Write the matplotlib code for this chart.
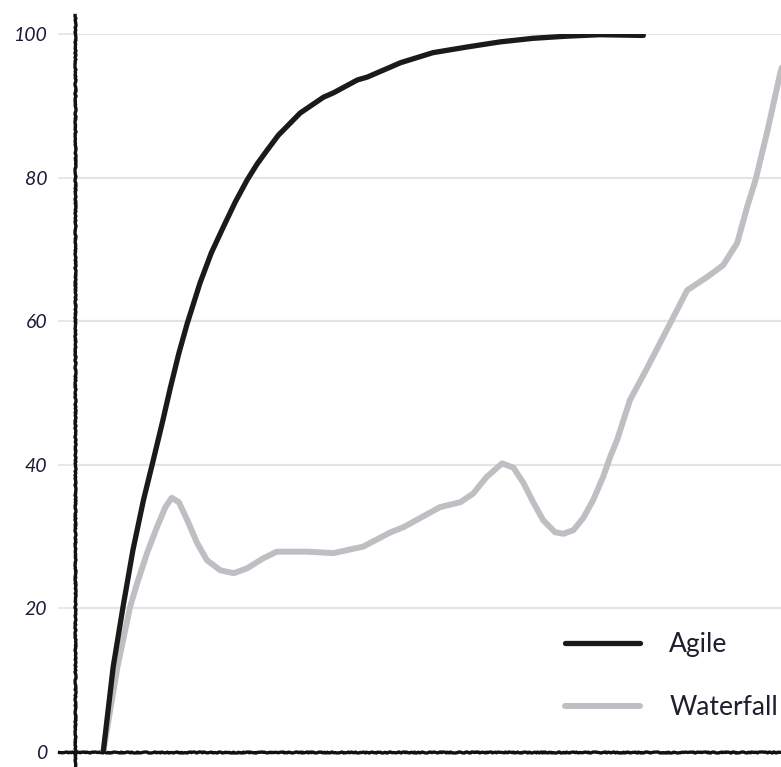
import numpy as np
import matplotlib
matplotlib.use("Agg")
import matplotlib.pyplot as plt

# values (x = time, y = percent)
agile_x = [0, 1.4, 2.8, 4.2, 5.7, 7.1, 8.4, 9.5, 10.7, 11.9, 13.7, 15.3, 17.0,
           18.7, 20.4, 21.8, 23.2, 24.8, 26.5, 27.9, 31.2, 32.6, 36.0, 37.4,
           40.7, 42.1, 46.7, 51.6, 56.2, 60.9, 65.7, 70.3, 76.5]
agile_y = [0, 11.8, 20.2, 28.1, 35.1, 40.7, 46.0, 50.7, 55.5, 59.7, 65.3, 69.5,
           73.1, 76.6, 79.7, 81.9, 83.8, 85.9, 87.6, 89.0, 91.2, 91.8, 93.6,
           94.0, 95.4, 96.0, 97.4, 98.2, 98.9, 99.4, 99.7, 99.9, 99.8]

waterfall_x = [0, 2.0, 3.8, 4.8, 6.2, 7.6, 8.8, 9.7, 10.7, 11.9, 13.3, 14.7,
               16.6, 18.5, 20.4, 22.7, 24.6, 28.9, 32.6, 36.8, 40.7, 42.5, 47.7,
               50.6, 52.4, 54.3, 56.5, 58.1, 59.5, 60.9, 62.3, 64.0, 65.2, 66.6,
               68.0, 69.4, 70.8, 71.8, 72.8, 74.6, 77.1, 80.3, 82.7, 85.6, 87.8,
               89.8, 91.2, 92.4, 94.1, 95.9, 97.3]
waterfall_y = [0, 11.8, 20.2, 23.5, 27.7, 31.3, 34.1, 35.4, 34.8, 32.3, 29.1,
               26.7, 25.3, 24.9, 25.6, 27.0, 27.9, 27.9, 27.7, 28.6, 30.6, 31.3,
               34.1, 34.8, 36.0, 38.3, 40.2, 39.6, 37.5, 34.8, 32.3, 30.6, 30.4,
               30.9, 32.6, 35.1, 38.3, 41.1, 43.5, 49.0, 53.6, 59.7, 64.3, 66.2,
               67.8, 70.9, 75.9, 79.7, 86.6, 94.6, 99.0]

yticks = [0, 20, 40, 60, 80, 100]
series_names = ["Agile", "Waterfall"]

W, H = 781, 767
fig = plt.figure(figsize=(W / 100, H / 100), dpi=100)
ax = fig.add_axes([75 / W, 15 / H, 706 / W, 718 / H])
ax.set_xlim(-4, 96)
ax.set_ylim(0, 100)

# light grid lines, ticks reach past the axis like in the drawing
grid_col = "#e4e4e4"
for v in yticks[1:]:
    ax.axhline(v, color=grid_col, lw=1.6, zorder=0)
ax.set_yticks(yticks)
ax.set_xticks([])
ax.tick_params(axis="y", length=12, width=1.2, color=grid_col, pad=8,
               labelsize=14, labelcolor="#1c1c3a")
for lab in ax.get_yticklabels():
    lab.set_fontstyle("italic")
    lab.set_family("Lato")

for s in ax.spines.values():
    s.set_visible(False)

# hand drawn axis lines
yax, = ax.plot([0, 0], [-0.021, 1.027], transform=ax.transAxes, color="#111111",
               lw=2.4, clip_on=False, zorder=3)
xax, = ax.plot([-0.022, 1.0], [0, 0], transform=ax.transAxes, color="#111111",
               lw=2.4, clip_on=False, zorder=3)
yax.set_sketch_params(0.5, 4, 8)
xax.set_sketch_params(0.5, 4, 8)

l1, = ax.plot(agile_x, agile_y, color="#1a1a1a", lw=3.8, solid_capstyle="round",
              solid_joinstyle="round", label=series_names[0], zorder=4)
l2, = ax.plot(waterfall_x, waterfall_y, color="#bebfc3", lw=4.3,
              solid_capstyle="round", solid_joinstyle="round",
              label=series_names[1], zorder=3)

leg = ax.legend(loc="center left", bbox_to_anchor=(0.694, 0.106), frameon=False,
                handlelength=2.85, handletextpad=1.1,
                labelspacing=1.45, borderpad=0, borderaxespad=0,
                prop={"family": "Lato", "size": 19})
for t in leg.get_texts():
    t.set_color("#1e1e2e")

fig.savefig("out.png", dpi=100)
